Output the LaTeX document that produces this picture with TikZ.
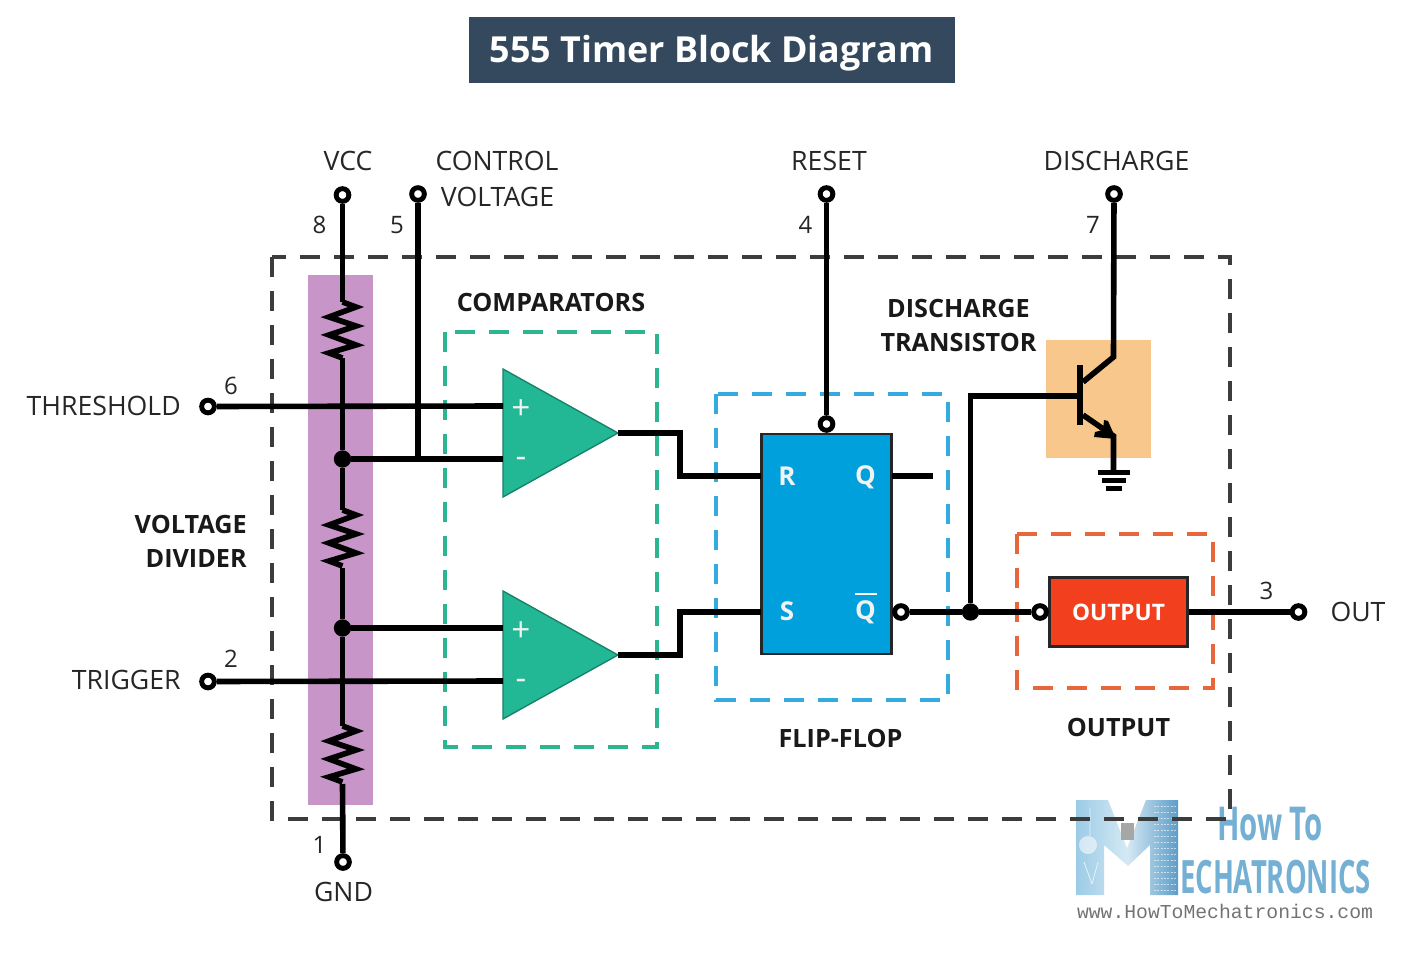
\documentclass[tikz,border=0pt]{standalone}
\usepackage{fontspec}
\usepackage{graphicx}
\setmainfont{Open Sans}
\newfontfamily\logomono{Liberation Mono}
\usetikzlibrary{shadings}
\definecolor{titlebg}{HTML}{34495E}
\definecolor{purplebar}{HTML}{C795C8}
\definecolor{grn}{HTML}{22B795}
\definecolor{grndash}{HTML}{2DB592}
\definecolor{bluebox}{HTML}{00A0DC}
\definecolor{bluedash}{HTML}{35AAE0}
\definecolor{redbox}{HTML}{F2401F}
\definecolor{orgdash}{HTML}{E8663C}
\definecolor{peach}{HTML}{F8C78C}
\definecolor{outerdash}{HTML}{3C3C3C}
\definecolor{logoA}{HTML}{9CCBE6}
\definecolor{logoB}{HTML}{5C9CC8}
\definecolor{logoC}{HTML}{D5E9F4}
\definecolor{logotext}{HTML}{74AFD4}
\tikzset{
  wire/.style={line width=4.2pt,black},
  terminal/.style={circle,draw=black,fill=white,line width=3.7pt,inner sep=0pt,minimum size=9.5pt},
  junction/.style={circle,fill=black,inner sep=0pt,minimum size=13pt},
  dashbox/.style={line width=2.5pt,dash pattern=on 15pt off 10.5pt},
  lbl/.style={font=\fontsize{20}{24}\selectfont,inner sep=0pt,black!85},
  pinlbl/.style={font=\fontsize{18}{22}\selectfont,inner sep=0pt,black!85},
  blbl/.style={font=\fontsize{18.9}{25.5}\selectfont\bfseries,inner sep=0pt,align=center,black!90},
  wlbl/.style={font=\fontsize{19.5}{24}\selectfont\bfseries,inner sep=0pt,white!95!black},
  signlbl/.style={font=\fontsize{25}{28}\selectfont,inner sep=0pt,white!95!black},
  comp/.style={fill=grn,draw=grn!70!black,line width=1pt,line join=miter},
}
\begin{document}
\begin{tikzpicture}[x=0.75pt,y=-0.75pt]
\useasboundingbox (0,0) rectangle (1404,956);

% title
\node[fill=titlebg,minimum width=364.5pt,minimum height=49.5pt,inner sep=0pt] (title) at (712,50) {};
\node[inner sep=0pt,text=white,font=\fontsize{26.9}{32}\selectfont\bfseries] (titletext) at (711.5,53) {555 Timer Block Diagram};

% coloured backgrounds
\fill[purplebar] (308,275) rectangle (373,805);
\fill[peach] (1046,340) rectangle (1151,458);

% logo
\shade[left color=logoA,right color=logoB,middle color=logoC]
  (1076,800) -- (1108,800) -- (1127,848) -- (1146,800) -- (1178,800) -- (1178,895)
  -- (1150,895) -- (1150,845) -- (1128,866) -- (1104,845) -- (1104,895) -- (1076,895) -- cycle;
\fill[gray!70] (1121,823) rectangle (1134,840);
\fill[white,opacity=.55] (1088,845) circle (9);
\draw[white,opacity=.7,line width=.6pt] (1090,808) -- (1090,836) (1084,862) -- (1092,884) (1098,862) -- (1092,884);
\foreach \yy in {806,812,...,890} \draw[white,opacity=.6,line width=.7pt,dash pattern=on 1.5pt off 1pt] (1154,\yy) -- (1176,\yy);
\node[inner sep=0pt,text=logotext] (logohow) at (1270,824)
  {\resizebox{79.5pt}{25pt}{\bfseries How To}};
\node[inner sep=0pt,text=logotext] (logomech) at (1275.5,877)
  {\resizebox{143pt}{25pt}{\bfseries ECHATRONICS}};
\node[inner sep=0pt,text=black!55] (logoweb) at (1225,911.5)
  {\resizebox{222pt}{!}{\logomono www.HowToMechatronics.com}};

% dashed boxes
\draw[outerdash,dashbox] (272,257) rectangle (1230,819);
\draw[grndash,dashbox] (445,332) rectangle (657,747);
\draw[bluedash,dashbox] (716,394) rectangle (948,700);
\draw[orgdash,dashbox] (1017,534) rectangle (1213,688);

% comparators
\draw[comp] (503,369) -- (618,433) -- (503,497) -- cycle;
\draw[comp] (503,591) -- (618,655) -- (503,719) -- cycle;
\coordinate (cmpAp) at (503,406);
\coordinate (cmpAm) at (503,459);
\coordinate (cmpAo) at (618,433);
\coordinate (cmpBp) at (503,628);
\coordinate (cmpBm) at (503,681);
\coordinate (cmpBo) at (618,655);

% blocks
\node[fill=bluebox,draw=black!85,line width=1.8pt,minimum width=97.5pt,minimum height=165pt,inner sep=0pt] (ff) at (826.5,544) {};
\node[fill=redbox,draw=black!85,line width=1.8pt,minimum width=103.5pt,minimum height=51.5pt,inner sep=0pt,
  text=white,font=\fontsize{17}{22}\selectfont\bfseries] (outbox) at (1118.5,612) {OUTPUT};
\coordinate (ffR) at (761,476);
\coordinate (ffS) at (761,612);
\coordinate (ffQ) at (892,476);
\coordinate (qend) at (933,476);

% resistors
\coordinate (r1t) at (342.5,302);
\coordinate (r1b) at (342.5,358);
\coordinate (r2t) at (342.5,510);
\coordinate (r2b) at (342.5,568);
\coordinate (r3t) at (342.5,726);
\coordinate (r3b) at (342.5,784);
\foreach \o in {0,208,424}
  \draw[wire,line join=miter] (342.5,302+\o) -- (356,307+\o) -- (329,317+\o) -- (356,326+\o) -- (329,335+\o) -- (356,345+\o) -- (329,353+\o) -- (342.5,358+\o);

% terminals
\node[terminal] (vcc) at (342.5,195) {};
\node[terminal] (ctl) at (418,194) {};
\node[terminal] (rst) at (826.5,194) {};
\node[terminal] (dis) at (1114,194) {};
\node[terminal] (thr) at (208,406.5) {};
\node[terminal] (trg) at (208,681.5) {};
\node[terminal] (gnd) at (343,862) {};
\node[terminal] (out) at (1298.5,612) {};
\node[terminal] (rstin) at (826.5,424) {};
\node[terminal] (qbar) at (901,612) {};
\node[terminal] (outin) at (1040,612) {};
\node[junction] (j1) at (342.5,459) {};
\node[junction] (j2) at (342.5,628) {};
\node[junction] (j3) at (970.5,612) {};
\coordinate (j4) at (418,459);

% wires
\draw[wire] (vcc) -- (r1t);
\draw[wire] (r1b) -- (j1) -- (r2t);
\draw[wire] (r2b) -- (j2) -- (r3t);
\draw[wire] (r3b) -- (gnd);
\draw[wire] (ctl) -- (j4);
\draw[wire] (thr) -- (cmpAp);
\draw[wire] (trg) -- (cmpBm);
\draw[wire] (j1) -- (cmpAm);
\draw[wire] (j2) -- (cmpBp);
\coordinate (a1) at (680,433); \coordinate (a2) at (680,476);
\coordinate (b1) at (680,655); \coordinate (b2) at (680,612);
\draw[wire,line join=miter] (cmpAo) -- (a1) -- (a2) -- (ffR);
\draw[wire,line join=miter] (cmpBo) -- (b1) -- (b2) -- (ffS);
\draw[wire] (rst) -- (rstin);
\draw[wire] (ffQ) -- (qend);
\draw[wire] (qbar) -- (j3);
\draw[wire] (j3) -- (outin);
\draw[wire] (outbox) -- (out);

% transistor
\coordinate (tb) at (1080,396);
\coordinate (tk) at (970.5,396);
\coordinate (tc1) at (1083,382);
\coordinate (tc2) at (1113.5,357);
\coordinate (te1) at (1083,415);
\coordinate (te2) at (1113.5,436);
\coordinate (tg) at (1113.5,471);
\draw[wire,line join=miter] (j3) -- (tk) -- (tb);
\draw[line width=5pt] (1080,365) -- (1080,425);
\draw[wire,line join=miter] (dis) -- (tc2) -- (tc1);
\draw[wire,line join=miter] (te1) -- (te2) -- (tg);
\fill[black] (1116,439) -- (1094,437) -- (1095,432) -- (1103,430) -- (1104,420) -- (1108,421) -- cycle;
\draw[line width=3.6pt] (1098,472.5) -- (1129.5,472.5);
\draw[line width=3.6pt] (1102,480.5) -- (1125.5,480.5);
\draw[line width=3.6pt] (1106,488.5) -- (1121.5,488.5);

% labels
\node[lbl] (tvcc) at (348,161) {VCC};
\node[lbl] (tctl1) at (497,161) {CONTROL};
\node[lbl] (tctl2) at (497.5,197) {VOLTAGE};
\node[lbl] (trst) at (829,161) {RESET};
\node[lbl] (tdis) at (1116.5,161) {DISCHARGE};
\node[lbl,anchor=east] (tthr) at (181,406) {THRESHOLD};
\node[lbl,anchor=east] (ttrg) at (181,680) {TRIGGER};
\node[lbl] (tout) at (1358,612) {OUT};
\node[lbl] (tgnd) at (343.5,892) {GND};
\node[pinlbl] (p8) at (319.5,225) {8};
\node[pinlbl] (p5) at (397,225) {5};
\node[pinlbl] (p4) at (805.5,225) {4};
\node[pinlbl] (p7) at (1093,225) {7};
\node[pinlbl] (p6) at (231,386) {6};
\node[pinlbl] (p2) at (231,659) {2};
\node[pinlbl] (p3) at (1266.5,591) {3};
\node[pinlbl] (p1) at (319.5,845) {1};
\node[blbl] (tcmp) at (551,302) {COMPARATORS};
\node[blbl] (tdt) at (958.5,325) {DISCHARGE\\TRANSISTOR};
\node[blbl,align=right,anchor=east] (tvd) at (247,541.5) {VOLTAGE\\DIVIDER};
\node[blbl] (tffl) at (840.5,738) {FLIP-FLOP};
\node[blbl] (toutl) at (1118.5,727) {OUTPUT};
\node[wlbl] (tr) at (787,476) {R};
\node[wlbl] (tq) at (865.5,477) {Q};
\node[wlbl] (ts) at (787,611) {S};
\node[wlbl] (tqb) at (865.5,612) {Q};
\draw[white,line width=1.8pt] (855,594) -- (877,594);
\node[signlbl] (pa) at (521,410) {+};
\node[signlbl] (ma) at (521,462) {-};
\node[signlbl] (pb) at (521,632) {+};
\node[signlbl] (mb) at (521,684) {-};
\end{tikzpicture}
\end{document}
